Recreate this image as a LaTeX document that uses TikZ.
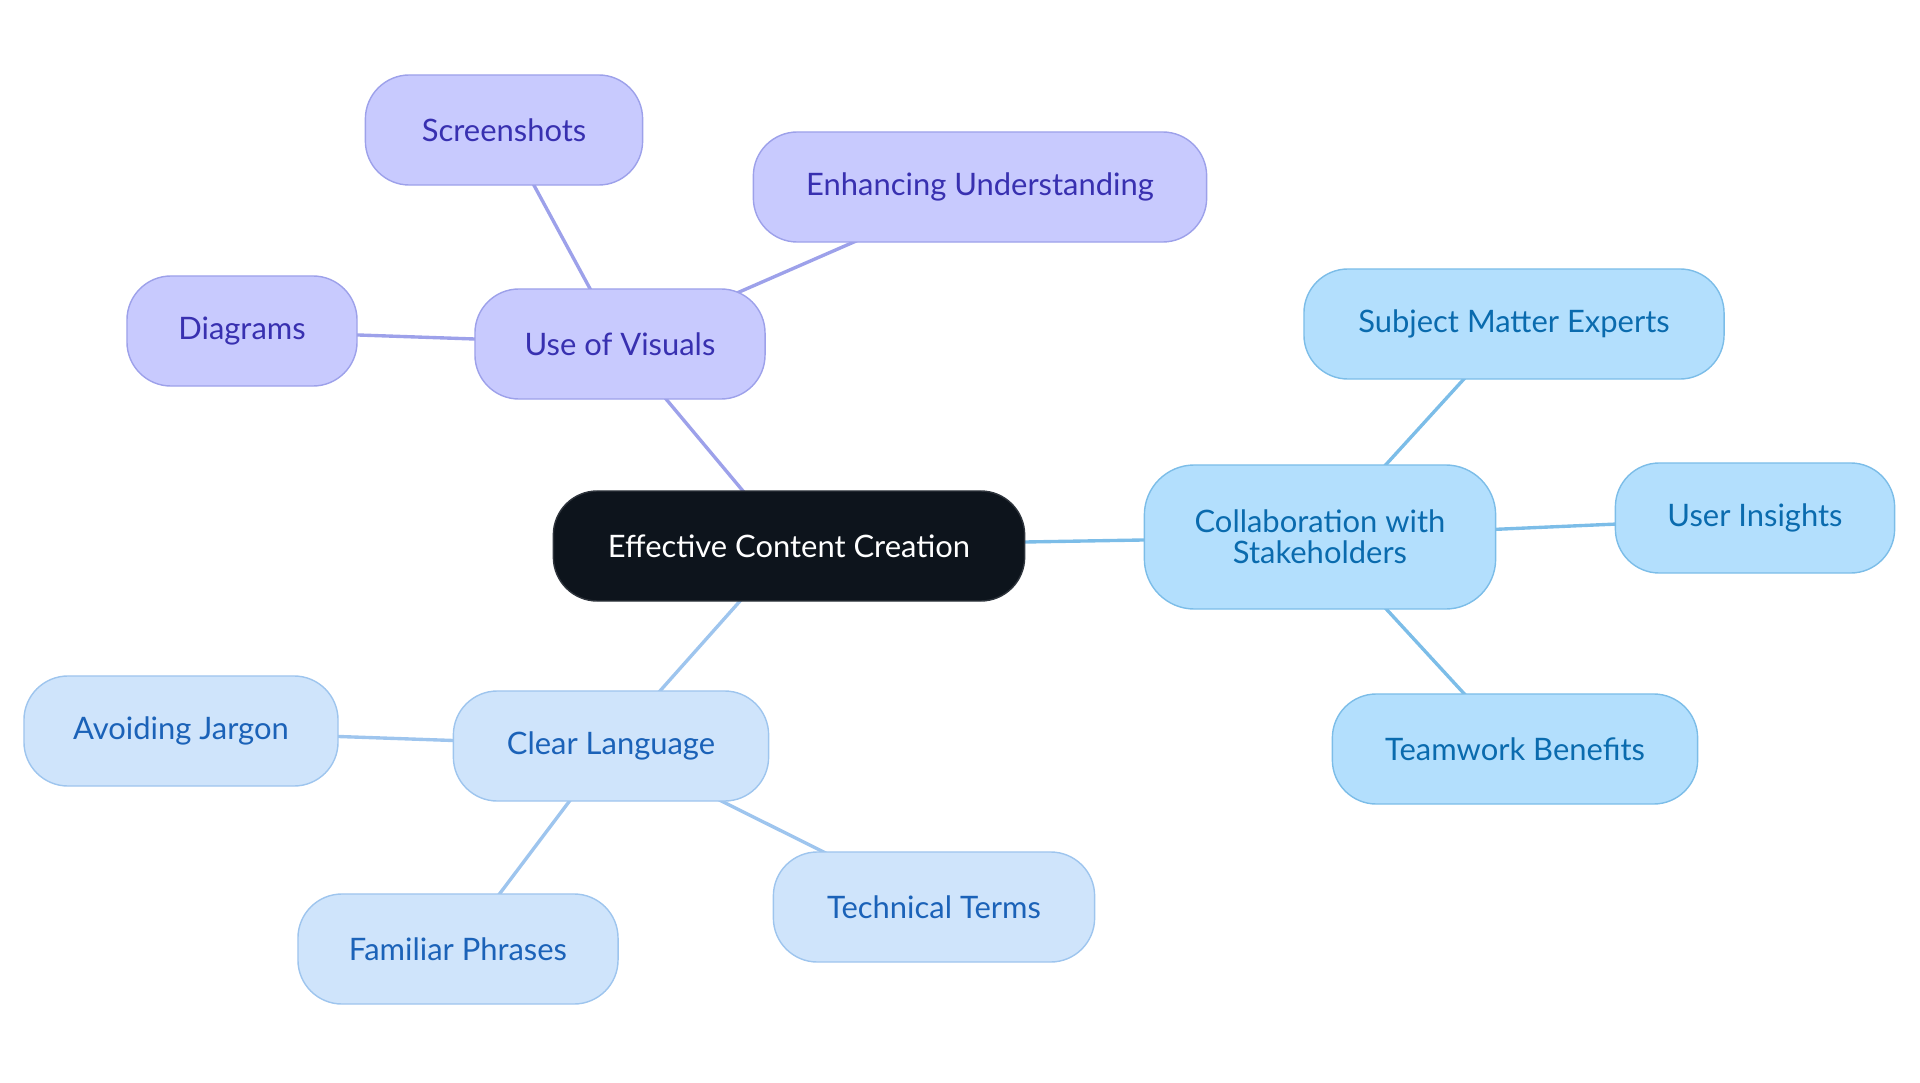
\documentclass[tikz,border=0pt]{standalone}
\usepackage{fontspec}
\setmainfont{Lato}
\usepackage{xcolor}
\usepackage{tikz}
\usetikzlibrary{backgrounds}

\definecolor{rootfill}{HTML}{0D141C}
\definecolor{rootdraw}{HTML}{2E343C}
\definecolor{visfill}{HTML}{C8CAFE}
\definecolor{visdraw}{HTML}{9DA1EA}
\definecolor{vistext}{HTML}{3830B0}
\definecolor{clrfill}{HTML}{CFE4FB}
\definecolor{clrdraw}{HTML}{9EC5EE}
\definecolor{clrtext}{HTML}{1B62B8}
\definecolor{colfill}{HTML}{B3DFFD}
\definecolor{coldraw}{HTML}{7CBDE8}
\definecolor{coltext}{HTML}{0A6BAE}

\begin{document}
\begin{tikzpicture}
        [x=0.025cm,y=-0.025cm,
          every node/.style={rectangle,rounded corners=1.1cm,draw,line width=1pt,
            minimum height=2.75cm,inner xsep=10pt,align=center,
            font=\fontsize{22}{25}\selectfont},
          rootnode/.style={fill=rootfill,draw=rootdraw,text=white},
          visnode/.style={fill=visfill,draw=visdraw,text=vistext},
          clrnode/.style={fill=clrfill,draw=clrdraw,text=clrtext},
          colnode/.style={fill=colfill,draw=coldraw,text=coltext}]
        \useasboundingbox (0,0) rectangle (1920,1083);
        \node[rootnode,minimum width=11.78cm] (n0) at (789,546) {Effective Content Creation};
        % visuals branch
        \node[visnode,minimum width=7.25cm] (n1) at (620,344) {Use of Visuals};
        \node[visnode,minimum width=6.93cm] (n2) at (504,130) {Screenshots};
        \node[visnode,minimum width=11.33cm] (n3) at (980,187) {Enhancing Understanding};
        \node[visnode,minimum width=5.75cm] (n4) at (242,331) {Diagrams};
        % stakeholders branch
        \node[colnode,minimum width=8.78cm,minimum height=3.6cm,rounded corners=1.25cm] (n5) at (1320,537) {Collaboration with\\[-3pt]Stakeholders};
        \node[colnode,minimum width=10.5cm] (n6) at (1514,324) {Subject Matter Experts};
        \node[colnode,minimum width=6.98cm] (n7) at (1755,518) {User Insights};
        \node[colnode,minimum width=9.13cm] (n8) at (1515,749) {Teamwork Benefits};
        % language branch
        \node[clrnode,minimum width=7.88cm] (n9) at (611,746) {Clear Language};
        \node[clrnode,minimum width=7.85cm] (n10) at (181,731) {Avoiding Jargon};
        \node[clrnode,minimum width=8cm] (n11) at (458,949) {Familiar Phrases};
        \node[clrnode,minimum width=8.03cm] (n12) at (934,907) {Technical Terms};
        \begin{pgfonlayer}{background}
        \foreach \from/\to in {n0/n1,n1/n2,n1/n3,n1/n4}
        \draw[visdraw,line width=2.4pt] (\from.center) -- (\to.center);
        \foreach \from/\to in {n0/n5,n5/n6,n5/n7,n5/n8}
        \draw[coldraw,line width=2.4pt] (\from.center) -- (\to.center);
        \foreach \from/\to in {n0/n9,n9/n10,n9/n11,n9/n12}
        \draw[clrdraw,line width=2.4pt] (\from.center) -- (\to.center);
        \end{pgfonlayer}
      \end{tikzpicture}
\end{document}
